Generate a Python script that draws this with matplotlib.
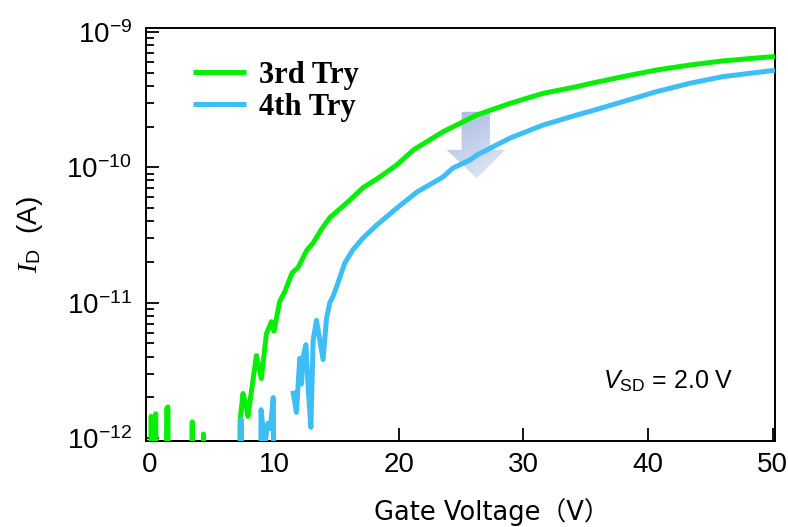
from matplotlib import pyplot as plt
from matplotlib.patches import Polygon
from matplotlib.colors import LinearSegmentedColormap
import numpy as np

# Gate voltage (V) and log10 of drain current (A); -13 marks points below the axis floor
v_3rd = [0.05, 0.12, 0.30, 0.50, 0.55, 1.33, 1.38, 1.48, 1.53, 3.38, 3.43, 3.48,
         4.28, 4.33, 4.38, 7.22, 7.27, 7.50, 7.77, 7.90, 8.58, 8.98, 9.38, 9.78,
         9.99, 10.45, 10.85, 11.44, 11.92, 12.64, 13.12, 13.85, 14.49, 15.86,
         17.14, 18.51, 19.87, 21.20, 23.56, 26.27, 28.95, 31.60, 34.30, 35.40,
         37.98, 40.68, 43.36, 46.00, 49.90, 50.20]
log_id_3rd = [-13, -11.84, -11.88, -11.82, -13, -13, -11.78, -11.77, -13, -13, -11.88, -13,
              -13, -11.97, -13, -13, -11.87, -11.67, -11.77, -11.84, -11.39, -11.56, -11.23, -11.14,
              -11.21, -10.99, -10.92, -10.78, -10.74, -10.61, -10.56, -10.45, -10.37, -10.26,
              -10.15, -10.07, -9.98, -9.87, -9.737, -9.613, -9.527, -9.453, -9.404, -9.38,
              -9.33, -9.281, -9.244, -9.214, -9.183, -9.18]

v_4th = [7.28, 7.35, 7.42, 8.90, 8.95, 9.25, 9.50, 9.70, 9.93, 10.02, 10.5,
         11.50, 11.79, 12.06, 12.20, 12.33, 12.55, 12.73, 12.95, 13.13, 13.40, 13.93,
         14.20, 14.47, 14.74, 15.10, 15.67, 16.31, 17.12, 18.24, 19.85, 21.45, 23.54,
         24.35, 25.71, 26.27, 28.95, 31.60, 34.30, 35.40, 37.98, 40.68, 43.36, 46.00,
         49.90, 50.20]
log_id_4th = [-13, -11.86, -13, -13, -11.79, -12.05, -11.89, -11.93, -11.70, -13, np.nan,
              -11.65, -11.81, -11.41, -11.60, -11.40, -11.31, -11.62, -11.92, -11.28, -11.13, -11.42,
              -11.12, -11.00, -10.95, -10.86, -10.707, -10.611, -10.523, -10.426, -10.301, -10.183, -10.072,
              -10.005, -9.946, -9.909, -9.783, -9.687, -9.613, -9.585, -9.515, -9.441, -9.379, -9.330,
              -9.286, -9.283]

labels = ['3rd Try', '4th Try']
colors = ['#08ee08', '#3fbdf5']

plt.rcParams['mathtext.fontset'] = 'custom'
plt.rcParams['mathtext.rm'] = 'Liberation Sans'
plt.rcParams['mathtext.it'] = 'Liberation Serif:italic'
plt.rcParams['mathtext.sf'] = 'Liberation Sans:italic'
plt.rcParams['font.family'] = ['Liberation Sans', 'Noto Sans CJK JP']

fig = plt.figure(figsize=(7.88, 5.27), dpi=100)
ax = fig.add_axes([0.185, 0.163, 0.7985, 0.784])

ax.plot(v_3rd, 10 ** np.array(log_id_3rd), color=colors[0], lw=3.6, label=labels[0],
        solid_capstyle='butt', solid_joinstyle='round', zorder=3)
ax.plot(v_4th, 10 ** np.array(log_id_4th), color=colors[1], lw=3.6, label=labels[1],
        solid_capstyle='butt', solid_joinstyle='round', zorder=4)

ax.set_yscale('log')
ax.set_xticks([0, 10, 20, 30, 40, 50])
ax.minorticks_on()
ax.xaxis.set_minor_locator(plt.NullLocator())

ax.tick_params(which='both', direction='in', top=False, right=False, width=1.3, labelsize=20)
ax.tick_params(which='major', length=9.5)
ax.tick_params(which='minor', length=5.5)
ax.tick_params(axis='x', pad=8)
ax.tick_params(axis='y', pad=10)
for s in ax.spines.values():
    s.set_linewidth(1.4)

lab_font = ['DejaVu Sans', 'Noto Sans CJK JP']
ax.set_xlabel('Gate Voltage（V）', fontsize=18.5, family=lab_font)
ax.xaxis.set_label_coords(0.55, -0.138)
ax.set_ylabel(r'$I_{\mathrm{D}}$  (A)', fontsize=20, family='Liberation Sans')
ax.yaxis.set_label_coords(-0.16, 0.5)

ax.text(0.727, 0.128, r'$\mathsf{V}_{\mathrm{SD}}$ = 2.0 V', transform=ax.transAxes, fontsize=18)

ax.legend(loc='upper left', bbox_to_anchor=(0.075, 0.92), frameon=False, borderpad=0,
          borderaxespad=0, handlelength=1.75, handletextpad=0.4, labelspacing=0.1,
          prop={'family': 'Liberation Serif', 'weight': 'bold', 'size': 22})

# translucent gradient arrow (shift of the curve)
arrow_xy = [(0.502, 0.797), (0.547, 0.797), (0.547, 0.705), (0.571, 0.705),
            (0.526, 0.636), (0.478, 0.705), (0.502, 0.705)]
arrow = Polygon(arrow_xy, closed=True, transform=ax.transAxes, facecolor='none', edgecolor='none')
ax.add_patch(arrow)
cmap = LinearSegmentedColormap.from_list('arr', ['#a6b8e2', '#e6ecf7'])
gx, gy = np.meshgrid(np.linspace(0, 1, 50), np.linspace(0, 1, 50))
grad = 0.35 * gx + 0.65 * gy
img = ax.imshow(grad, cmap=cmap, extent=[0.478, 0.571, 0.636, 0.797], transform=ax.transAxes,
                aspect='auto', origin='upper', zorder=2)
img.set_clip_path(arrow)
ax.set_xlim(-0.3, 50.2)
ax.set_ylim(10 ** -12.022, 10 ** -8.97)

fig.savefig('out.png', dpi=100)
